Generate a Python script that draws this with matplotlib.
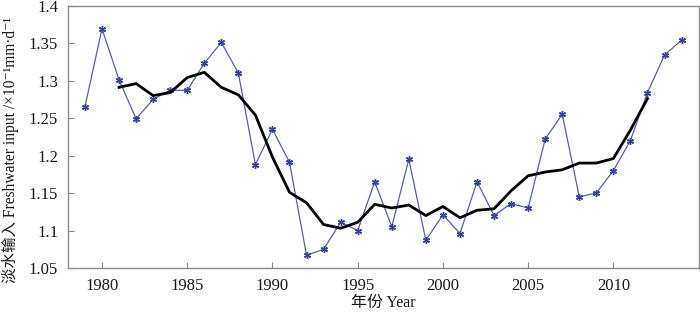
import numpy as np
import matplotlib.pyplot as plt

plt.switch_backend('Agg')
plt.rcParams['font.family'] = ['Liberation Serif', 'Noto Sans CJK SC', 'DejaVu Serif']

# annual freshwater input
years = list(range(1979, 2015))
freshwater = [1.265, 1.369, 1.301, 1.249, 1.275, 1.287, 1.287, 1.323, 1.351, 1.310,
              1.188, 1.235, 1.191, 1.067, 1.075, 1.111, 1.100, 1.165, 1.105, 1.195,
              1.087, 1.121, 1.096, 1.165, 1.120, 1.136, 1.130, 1.222, 1.255, 1.145,
              1.150, 1.180, 1.220, 1.284, 1.334, 1.354]

# moving average
ma_years = list(range(1981, 2013))
moving_avg = [1.291, 1.296, 1.280, 1.284, 1.304, 1.311, 1.291, 1.281, 1.254, 1.198,
              1.151, 1.137, 1.108, 1.103, 1.111, 1.135, 1.130, 1.134, 1.120, 1.132,
              1.117, 1.127, 1.129, 1.153, 1.173, 1.178, 1.181, 1.190, 1.190, 1.196,
              1.234, 1.276]

xticks = [1980, 1985, 1990, 1995, 2000, 2005, 2010]
yticks = [1.05, 1.1, 1.15, 1.2, 1.25, 1.3, 1.35, 1.4]
ytick_labels = ['1.05', '1.1', '1.15', '1.2', '1.25', '1.3', '1.35', '1.4']

fig = plt.figure(figsize=(7, 3.12), dpi=100)
ax = fig.add_axes([0.097, 0.141, 0.901, 0.841])

ax.plot(years, freshwater, color='#5560ac', linewidth=0.9,
        marker=(6, 2, 0), markersize=5, markeredgewidth=1.0,
        markeredgecolor='#34409a')
ax.plot(ma_years, moving_avg, color='black', linewidth=2.0)

ax.set_xlim(1978, 2015)
ax.set_ylim(1.05, 1.4)
ax.set_xticks(xticks)
ax.set_yticks(yticks)
ax.set_yticklabels(ytick_labels)
ax.tick_params(direction='in', length=4, width=0.8, color='#888888',
               labelsize=12, labelcolor='#1a1a1a')
ax.tick_params(axis='x', pad=7)
ax.tick_params(axis='y', pad=7)
for s in ax.spines.values():
    s.set_color('#8c8c8c')
    s.set_linewidth(1.0)

ax.set_xlabel('年份 Year', fontsize=11.5, color='#1a1a1a', labelpad=1)
ax.set_ylabel('淡水输入 Freshwater input /×10⁻¹mm·d⁻¹', fontsize=11.2,
              color='#1a1a1a')
ax.yaxis.set_label_coords(-0.078, 0.45)

fig.savefig('out.png', dpi=100)
